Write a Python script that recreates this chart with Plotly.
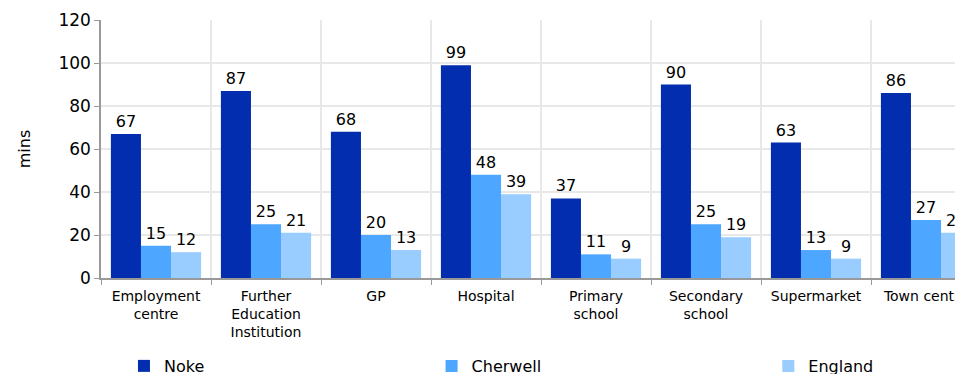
import plotly.graph_objects as go

categories = ["Employment<br>centre", "Further<br>Education<br>Institution", "GP", "Hospital",
              "Primary<br>school", "Secondary<br>school", "Supermarket", "Town centre"]
noke = [67, 87, 68, 99, 37, 90, 63, 86]
cherwell = [15, 25, 20, 48, 11, 25, 13, 27]
england = [12, 21, 13, 39, 9, 19, 9, 21]

series = [("Noke", noke, "#022DAE", "legend"),
          ("Cherwell", cherwell, "#4DA6FF", "legend2"),
          ("England", england, "#99CCFF", "legend3")]

font = "DejaVu Sans, Verdana, sans-serif"

fig = go.Figure()
for name, vals, color, lg in series:
    fig.add_trace(go.Bar(
        x=categories, y=vals, name=name, marker_color=color, marker_line_width=0,
        text=vals, textposition="outside", cliponaxis=True, showlegend=True,
        textfont=dict(size=16, color="#000000", family=font), legend=lg))

fig.update_layout(
    width=963, height=374,
    margin=dict(l=93, r=0, t=12, b=104, autoexpand=False),
    paper_bgcolor="white", plot_bgcolor="white",
    barmode="group", bargap=0.18, bargroupgap=0,
    font=dict(family=font, color="#000000"),
    showlegend=True,
)
legend_common = dict(orientation="h", yanchor="middle", y=-0.341, xanchor="left",
                     font=dict(size=16, family=font), bgcolor="rgba(0,0,0,0)")
fig.update_layout(
    legend=dict(x=0.0264, **legend_common),
    legend2=dict(x=0.380, **legend_common),
    legend3=dict(x=0.767, **legend_common),
)
fig.update_xaxes(
    range=[-0.5, 7.409], tickson="boundaries", ticks="outside", ticklen=5,
    tickcolor="#999999", showgrid=True, gridcolor="#E8E8E8", gridwidth=1.5,
    showline=True, linecolor="#999999", linewidth=1.5, automargin=False,
    tickfont=dict(size=14, family=font), tickangle=0, ticklabelstandoff=4, fixedrange=True)
fig.update_yaxes(
    range=[0, 120], dtick=20, ticks="outside", ticklen=5, tickcolor="#999999",
    showgrid=True, gridcolor="#E8E8E8", gridwidth=1.5, zeroline=False,
    showline=True, linecolor="#999999", linewidth=1.5, automargin=False,
    tickfont=dict(size=17, family=font),
    title=dict(text="mins", font=dict(size=16, family=font), standoff=24))

fig.write_html("out.html")
